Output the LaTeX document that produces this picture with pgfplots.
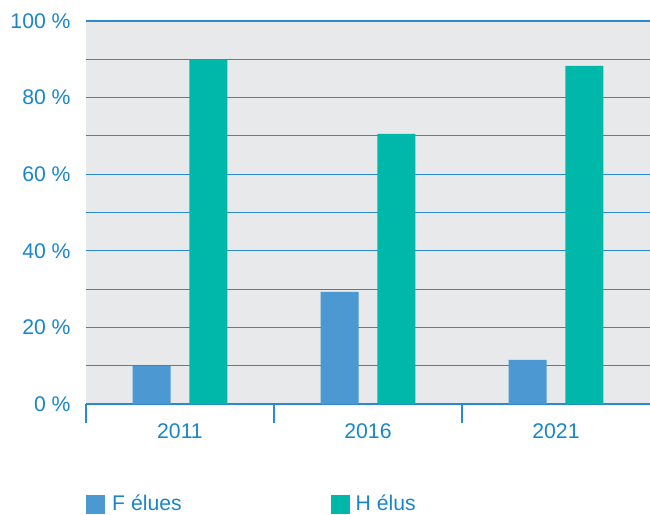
\documentclass[border=0pt]{standalone}
\usepackage{pgfplots}
\pgfplotsset{compat=1.18}
\usepackage{fontspec}
\setmainfont{Liberation Sans}
\definecolor{txtblue}{HTML}{1A86C8}
\definecolor{gridblue}{HTML}{2A8AD0}
\definecolor{fbar}{HTML}{4B98D2}
\definecolor{hbar}{HTML}{00B8AA}
\definecolor{bgcol}{HTML}{E8E9EB}
\begin{document}
\begin{tikzpicture}
\begin{axis}[
  scale only axis,
  width=282pt, height=191.5pt,
  xmin=-0.5, xmax=2.5, ymin=0, ymax=100,
  axis lines*=left,
  axis line style={-, gridblue, line width=0.55pt},
  y axis line style={draw=none},
  axis background/.style={fill=bgcol},
  xtick={-0.5,0.5,1.5},
  xticklabels={},
  x tick style={gridblue, line width=0.55pt},
  xtick align=outside,
  major tick length=9.5pt,
  extra x ticks={0,1,2},
  extra x tick labels={2011,2016,2021},
  extra x tick style={major tick length=0pt, grid=none},
  ytick={0,20,...,100},
  minor ytick={10,30,50,70,90},
  ymajorgrids, yminorgrids,
  major y tick style={draw=none}, minor y tick style={draw=none},
  grid style={gridblue, line width=0.55pt},
  minor grid style={gridblue, line width=0.55pt},
  yticklabel={\pgfmathprintnumber[assume math mode=true]{\tick}~\%},
  ticklabel style={font=\fontsize{10.6}{12}\selectfont, text=txtblue, inner sep=0pt},
  yticklabel style={xshift=-7.5pt},
  xticklabel style={yshift=-9.5pt},
  legend columns=2,
  legend style={draw=none, fill=none, at={(0,0)}, anchor=west, yshift=-50.25pt,
    inner sep=0pt, column sep=0pt, font=\fontsize{10.6}{12}\selectfont, text=txtblue,
    nodes={inner sep=0pt}},
  legend image code/.code={\fill[#1] (0pt,-4.75pt) rectangle (9.5pt,4.75pt);},
]
\addplot[ybar, bar width=0.202, bar shift=-0.151, fill=fbar, draw=none]
  coordinates {(0,9.9) (1,29.3) (2,11.5)};
\addlegendentry{\makebox[113pt][l]{\hspace{3.4pt}F élues}}
\addplot[ybar, bar width=0.202, bar shift=0.151, fill=hbar, draw=none]
  coordinates {(0,89.9) (1,70.5) (2,88.3)};
\addlegendentry{\makebox[80pt][l]{\hspace{2.6pt}H élus}}
\end{axis}
\pgfresetboundingbox
\path[use as bounding box] (-43pt,-55.5pt) rectangle (282pt,202pt);
\end{tikzpicture}
\end{document}
